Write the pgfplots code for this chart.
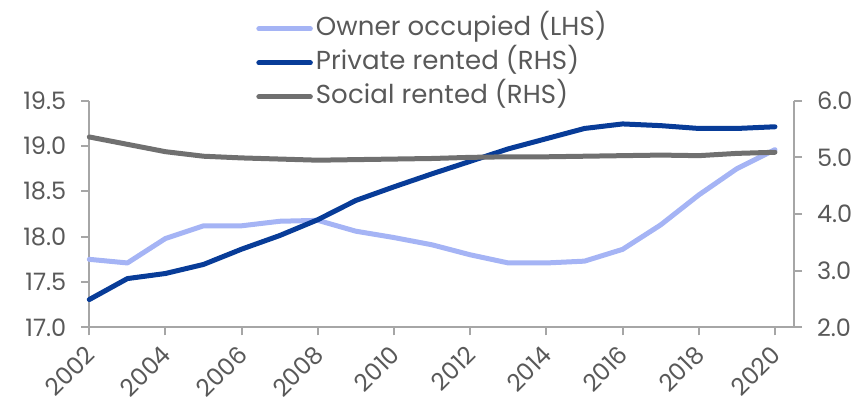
\documentclass[border=0pt]{standalone}
\usepackage{pgfplots}
\pgfplotsset{compat=1.18}
\usepackage{fontspec}
\setmainfont{Poppins}
\newfontfamily\legfont[LetterSpace=0.5]{Poppins}
\definecolor{owner}{RGB}{165,180,245}
\definecolor{private}{RGB}{8,60,152}
\definecolor{social}{RGB}{112,112,112}
\definecolor{txt}{RGB}{89,89,89}
\definecolor{axl}{RGB}{166,166,166}
\pgfplotsset{common/.style={
  scale only axis, width=352.35pt, height=113.3pt,
  xmin=2002, xmax=2020.5, clip=false,
  axis line style={axl, line width=1pt},
  tick style={axl, line width=1pt},
  tick align=outside, major tick length=4pt,
  tick label style={font=\fontsize{12}{14}\selectfont, text=txt},
  /pgf/number format/assume math mode=true,
}}
\begin{document}
\begin{tikzpicture}
\useasboundingbox (-44.65pt,-38.35pt) rectangle (384.85pt,163.65pt);
\begin{axis}[common,
  ymin=17, ymax=19.5, ytick={17,17.5,18,18.5,19,19.5},
  axis x line*=bottom, axis y line*=left,
  xtick={2002,2004,...,2020},
  xticklabel style={yshift=-6pt, xshift=2pt, rotate=45, anchor=east, inner sep=2pt, /pgf/number format/1000 sep={}},
  yticklabel style={xshift=-4pt, /pgf/number format/fixed, /pgf/number format/fixed zerofill, /pgf/number format/precision=1},
]
\addplot[owner, line width=2.5pt, line join=round, line cap=round] coordinates {
(2002,17.75) (2003,17.71) (2004,17.98) (2005,18.12) (2006,18.12) (2007,18.17)
(2008,18.18) (2009,18.06) (2010,17.99) (2011,17.91) (2012,17.80) (2013,17.71)
(2014,17.71) (2015,17.73) (2016,17.86) (2017,18.13) (2018,18.46) (2019,18.75) (2020,18.96)};
\end{axis}
\begin{axis}[common,
  ymin=2, ymax=6, ytick={2,3,4,5,6},
  axis y line*=right, axis x line=none,
  yticklabel style={xshift=4pt, /pgf/number format/fixed, /pgf/number format/fixed zerofill, /pgf/number format/precision=1},
  legend style={at={(0.2365,1.374)}, anchor=north west, draw=none, fill=none,
    inner sep=0pt, row sep=4.5pt, column sep=1.5pt,
    font=\legfont\fontsize{13}{15}\selectfont, text=txt,
    nodes={inner sep=0pt, text height=9.5pt, text depth=3pt}},
  legend cell align=left,
  legend image code/.code={\draw[#1, line cap=round] (1.25pt,0pt) -- (27pt,0pt);},
]
\addlegendimage{owner, line width=2.5pt}
\addlegendentry{Owner occupied (LHS)}
\addplot[private, line width=2.5pt, line join=round, line cap=round] coordinates {
(2002,2.49) (2003,2.86) (2004,2.95) (2005,3.11) (2006,3.38) (2007,3.62)
(2008,3.90) (2009,4.24) (2010,4.48) (2011,4.71) (2012,4.93) (2013,5.15)
(2014,5.33) (2015,5.51) (2016,5.59) (2017,5.56) (2018,5.51) (2019,5.51) (2020,5.54)};
\addlegendentry{Private rented (RHS)}
\addplot[social, line width=2.5pt, line join=round, line cap=round] coordinates {
(2002,5.36) (2003,5.23) (2004,5.10) (2005,5.02) (2006,4.99) (2007,4.97)
(2008,4.95) (2009,4.96) (2010,4.97) (2011,4.98) (2012,5.00) (2013,5.01)
(2014,5.01) (2015,5.02) (2016,5.03) (2017,5.04) (2018,5.03) (2019,5.07) (2020,5.09)};
\addlegendentry{Social rented (RHS)}
\end{axis}
\end{tikzpicture}
\end{document}
